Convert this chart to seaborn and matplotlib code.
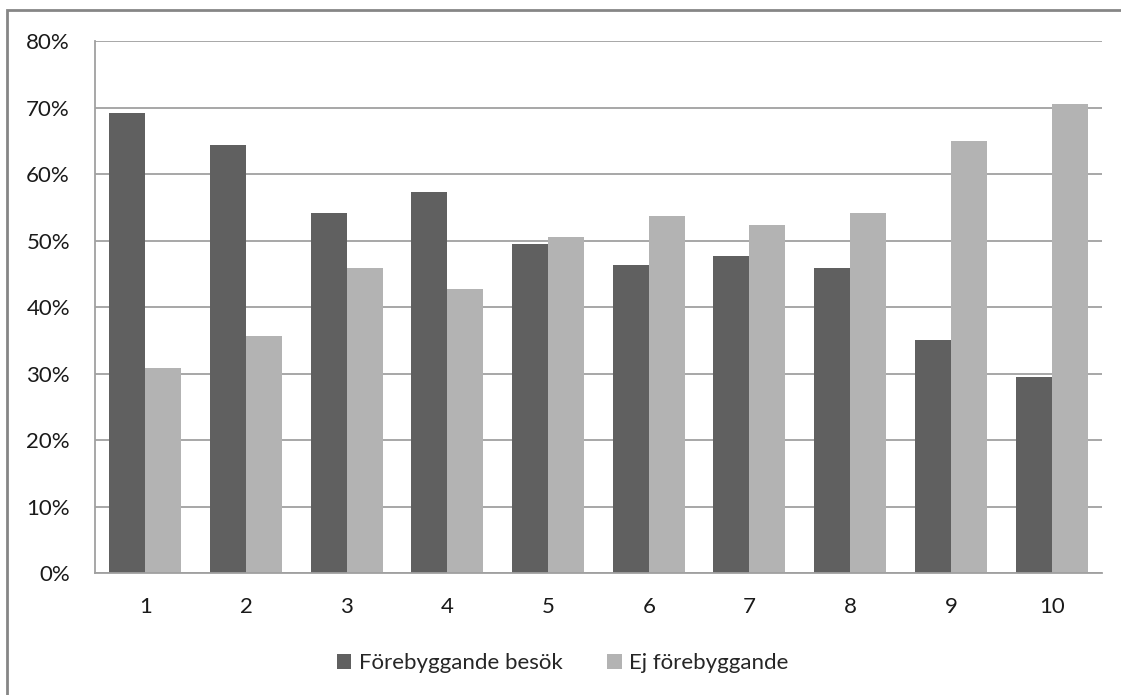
import matplotlib
matplotlib.use("Agg")
import matplotlib.pyplot as plt
from matplotlib.patches import Rectangle
from matplotlib.ticker import MultipleLocator, PercentFormatter
import pandas as pd
import seaborn as sns

groups = ["1", "2", "3", "4", "5", "6", "7", "8", "9", "10"]
forebyggande = [69.2, 64.4, 54.1, 57.3, 49.5, 46.3, 47.6, 45.9, 35.0, 29.5]
ej_forebyggande = [30.8, 35.6, 45.9, 42.7, 50.5, 53.7, 52.4, 54.1, 65.0, 70.5]
series_names = ["Förebyggande besök", "Ej förebyggande"]
colors = ["#606060", "#b3b3b3"]

df = pd.DataFrame({
    "grupp": groups * 2,
    "andel": forebyggande + ej_forebyggande,
    "serie": [series_names[0]] * len(groups) + [series_names[1]] * len(groups),
})

sns.set_theme(style="white")
plt.rcParams["font.family"] = ["Lato", "DejaVu Sans"]

fig = plt.figure(figsize=(11.21, 6.95), dpi=100)
ax = fig.add_axes([0.0847, 0.1755, 0.8983, 0.7655])

sns.barplot(data=df, x="grupp", y="andel", hue="serie", order=groups,
            hue_order=series_names, palette=colors, width=0.715,
            saturation=1, edgecolor="none", ax=ax, legend=False)

ax.set_ylim(0, 80)
ax.set_xlim(-0.5, len(groups) - 0.5)
ax.yaxis.set_major_locator(MultipleLocator(10))
ax.yaxis.set_major_formatter(PercentFormatter(decimals=0))
ax.grid(axis="y", color="#a0a0a0", linewidth=1.3)
ax.set_axisbelow(True)
for side in ["top", "right"]:
    ax.spines[side].set_visible(False)
for side in ["left", "bottom"]:
    ax.spines[side].set_color("#a0a0a0")
    ax.spines[side].set_linewidth(1.3)
ax.tick_params(axis="both", length=0, labelsize=16, colors="#1a1a1a")
ax.tick_params(axis="y", pad=18)
ax.tick_params(axis="x", pad=17)
ax.set_xlabel("")
ax.set_ylabel("")

handles = [Rectangle((0, 0), 1, 1, facecolor=c, edgecolor="none") for c in colors]
fig.legend(handles, series_names, loc="center", bbox_to_anchor=(0.502, 0.046),
           ncol=2, frameon=False, fontsize=16, handlelength=0.65,
           handleheight=0.65, handletextpad=0.35, columnspacing=2.0)

# chart frame (open on the right and bottom edges)
fig.add_artist(Rectangle((7 / 1121, -0.05), 1.2, (695 - 10) / 695 + 0.05,
                         transform=fig.transFigure, fill=False,
                         edgecolor="#868686", linewidth=2))

fig.savefig("out.png", dpi=100, facecolor="white")
